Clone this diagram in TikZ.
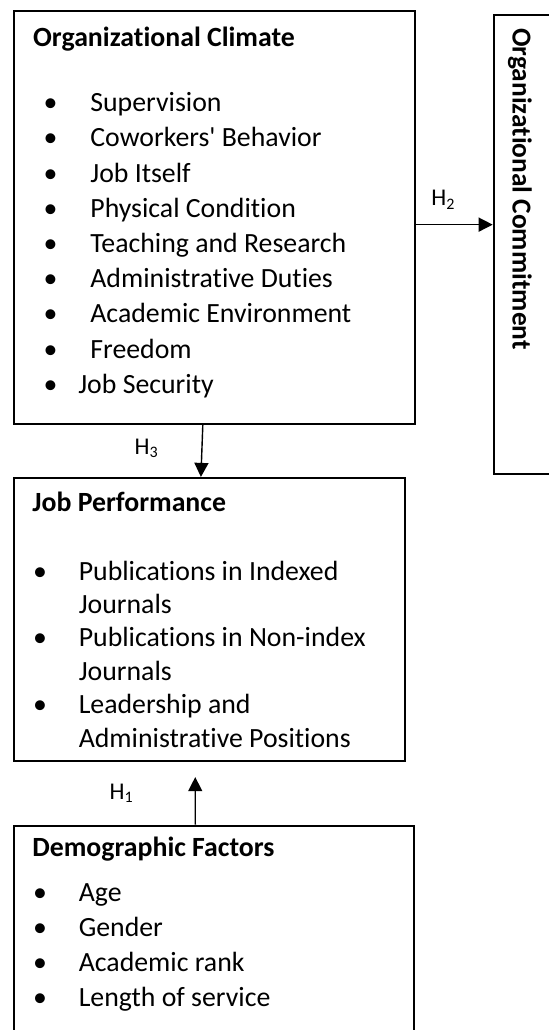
\documentclass[tikz,border=0pt]{standalone}
\usepackage{fontspec}
\setmainfont{Carlito}[Ligatures=NoCommon]
\usetikzlibrary{arrows.meta,positioning,calc}

\begin{document}
\begin{tikzpicture}[x=1pt,y=1pt,>={Triangle[width=7pt,length=7pt]}]
        \tikzstyle{box}=[rectangle,draw,line width=1pt,inner sep=0pt,anchor=north west]
        \tikzstyle{title}=[anchor=base west,inner sep=0pt,font=\fontsize{13.9}{17.5}\selectfont\bfseries]
        \tikzstyle{lst}=[anchor=base west,inner sep=0pt,font=\fontsize{13.9}{17.5}\selectfont]
        \tikzstyle{hyp}=[inner sep=0pt,font=\fontsize{12}{14}\selectfont]
        \tikzstyle{link}=[->,line width=0.7pt]

        \useasboundingbox (0,0) rectangle (274,-515);

        \node [box, minimum width=200.5pt, minimum height=206.6pt] (clim) at (6.65,-5) {}; %climate
        \node [box, minimum width=40pt, minimum height=229.7pt] (commit) at (246.35,-7) {}; %commitment
        \node [box, minimum width=195.3pt, minimum height=141.6pt, below=25.85pt of clim.south west, anchor=north west] (perf) {}; %performance
        \node [box, minimum width=200pt, minimum height=120pt, below=31.2pt of perf.south west, anchor=north west] (demo) {}; %demographics

        \node [title] (climtitle) at (16.4,-23.3) {Organizational Climate};
        \node [lst, font=\fontsize{13.9}{17.6}\selectfont] (climlist) at (21.6,-55.8) {\begin{tabular}[t]{@{}p{23.4pt}@{}l@{}}
            \textbullet & Supervision\\
            \textbullet & Coworkers\textquotesingle{} Behavior\\
            \textbullet & Job Itself\\
            \textbullet & Physical Condition\\
            \textbullet & Teaching and Research\\
            \textbullet & Administrative Duties\\
            \textbullet & Academic Environment\\
            \textbullet & Freedom\\
            \textbullet & \hspace*{-6pt}Job Security
            \end{tabular}};

        \node [title, font=\fontsize{13.7}{16}\selectfont\bfseries, rotate=-90, anchor=center] (committitle) at (260,-94.5) {Organizational Commitment};

        \node [title] (perftitle) at (16,-255.8) {Job Performance};
        \node [lst, font=\fontsize{13.9}{16.7}\selectfont] (perflist) at (16.3,-290) {\begin{tabular}[t]{@{}p{22.9pt}@{}l@{}}
            \textbullet & Publications in Indexed\\
                        & Journals\\
            \textbullet & Publications in Non-index\\
                        & Journals\\
            \textbullet & Leadership and\\
                        & Administrative Positions
            \end{tabular}};

        \node [title] (demotitle) at (16,-428.3) {Demographic Factors};
        \node [lst] (demolist) at (16.3,-450.8) {\begin{tabular}[t]{@{}p{22.9pt}@{}l@{}}
            \textbullet & Age\\
            \textbullet & Gender\\
            \textbullet & Academic rank\\
            \textbullet & Length of service
            \end{tabular}};

        \node [hyp] (h2) at (221.7,-100) {H\textsubscript{2}};
        \node [hyp] (h3) at (73.3,-224.2) {H\textsubscript{3}};
        \node [hyp] (h1) at (60.8,-396.7) {H\textsubscript{1}};

        \draw [link] (clim.-2.4) -- (clim.-2.4 -| commit.west);
        \draw [link] ($(clim.south)+(-6,0)$) -- ($(perf.north)+(-4.35,0)$);
        \draw [link, shorten >=7.5pt] ($(demo.north)+(-9.5,0)$) -- ($(perf.south)+(-7.2,0)$);
    \end{tikzpicture}
\end{document}
